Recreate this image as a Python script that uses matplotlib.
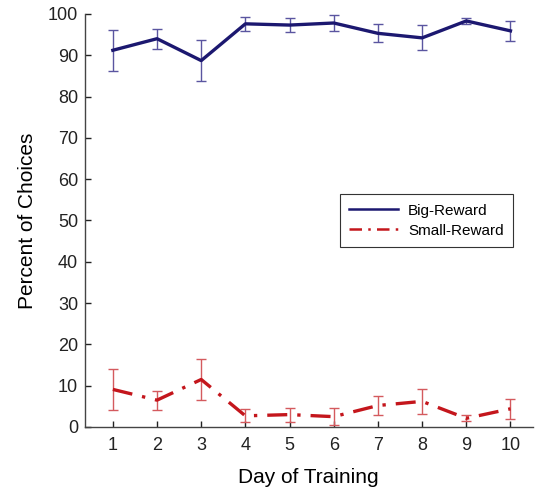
import matplotlib.pyplot as plt
from matplotlib.lines import Line2D

plt.rcParams['font.family'] = ['Liberation Sans', 'DejaVu Sans']

# Data
days = [1, 2, 3, 4, 5, 6, 7, 8, 9, 10]
big_reward = [91.2, 94.0, 88.7, 97.6, 97.3, 97.8, 95.3, 94.2, 98.3, 95.9]
big_err = [5.0, 2.4, 5.0, 1.7, 1.7, 2.0, 2.2, 3.0, 0.8, 2.4]
small_reward = [9.1, 6.5, 11.5, 2.7, 3.0, 2.5, 5.2, 6.2, 2.1, 4.4]
small_err = [5.0, 2.3, 5.0, 1.6, 1.7, 2.0, 2.2, 3.0, 0.7, 2.4]

blue = '#1c1870'
red = '#c4161c'
dashdot = (0, (6, 3, 1, 3))

fig = plt.figure(figsize=(5.36, 4.9), dpi=100)
ax = fig.add_axes([0.1586, 0.1286, 0.835, 0.843])

# error bars drawn thin and a bit lighter, lines on top
ax.errorbar(days, big_reward, yerr=big_err, fmt='none', ecolor='#5a55a0',
            elinewidth=1.0, capsize=3.5, capthick=1.0, zorder=2)
ax.errorbar(days, small_reward, yerr=small_err, fmt='none', ecolor='#d45a5e',
            elinewidth=1.0, capsize=3.5, capthick=1.0, zorder=2)
ax.plot(days, big_reward, color=blue, lw=2.4, ls='-', zorder=3)
ax.plot(days, small_reward, color=red, lw=2.4, ls=dashdot, zorder=3)

ax.set_xlim(0.37, 10.5)
ax.set_ylim(0, 100)
ax.set_xticks(days)
ax.set_yticks(range(0, 101, 10))
ax.tick_params(direction='in', length=4, width=1, labelsize=13, colors='#222222')
ax.tick_params(axis='x', pad=7)
ax.tick_params(axis='y', pad=5)

for side in ['top', 'right']:
    ax.spines[side].set_visible(False)
for side in ['left', 'bottom']:
    ax.spines[side].set_color('#444444')
    ax.spines[side].set_linewidth(1.0)

ax.set_xlabel('Day of Training', fontsize=15, labelpad=10)
ax.set_ylabel('Percent of Choices', fontsize=15, labelpad=8)

handles = [Line2D([], [], color=blue, lw=1.8, ls='-'),
           Line2D([], [], color=red, lw=1.8, ls=(0, (5, 2.5, 1, 2.5)))]
leg = ax.legend(handles, ['Big-Reward', 'Small-Reward'], loc='upper left',
                bbox_to_anchor=(0.570, 0.563), borderaxespad=0,
                fancybox=False, framealpha=1, edgecolor='#333333', fontsize=11,
                handlelength=3.2, handletextpad=0.65, borderpad=0.6, labelspacing=0.4)
leg.get_frame().set_linewidth(0.8)

plt.savefig('out.png', dpi=100)
